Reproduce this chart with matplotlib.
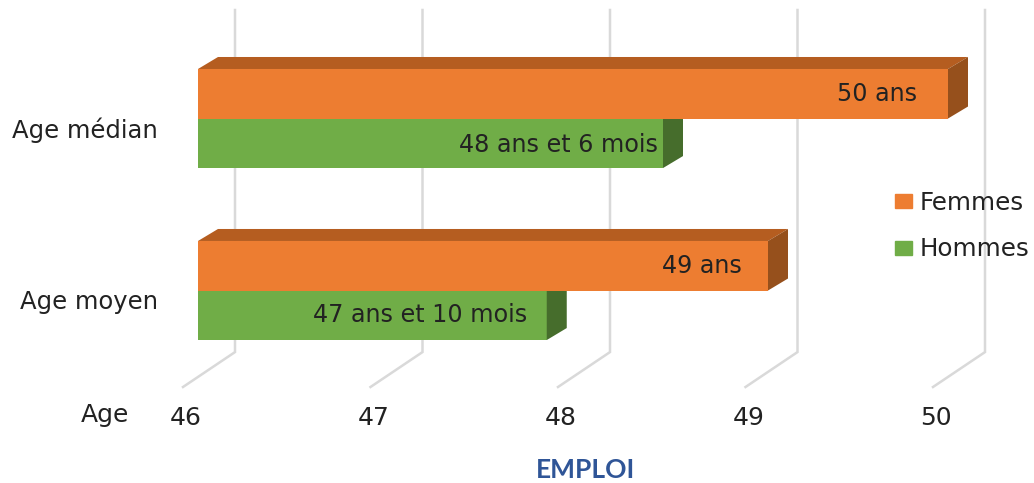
import matplotlib
matplotlib.use('Agg')
import matplotlib.pyplot as plt
from matplotlib.patches import Patch, Polygon
from matplotlib.transforms import ScaledTranslation

# Données
categories = ['Age moyen', 'Age médian']
femmes = [49.04, 50.0]
hommes = [47.86, 48.48]
femmes_labels = ['49 ans', '50 ans']
hommes_labels = ['47 ans et 10 mois', '48 ans et 6 mois']
ticks = [46, 47, 48, 49, 50]

plt.rcParams['font.family'] = ['DejaVu Sans']

W, H = 1034, 483
fig = plt.figure(figsize=(W / 100, H / 100), dpi=100)
# axes calés sur la face avant du graphique (46 -> 198 px, 50 -> 948 px)
ax = fig.add_axes([198 / W, 1 - 387 / H, 750 / W, 377 / H])
ax.set_xlim(46, 50)
ax.set_ylim(-0.561, 1.631)

# profondeur du faux effet 3D, en unités de données
bar_h = 0.288
dx = 20 / 187.5
dy = 12 / 172
back = 37 / 187.5
floor_y = -0.358


def px(p):
    return ScaledTranslation(p[0] / 100, -p[1] / 100, fig.dpi_scale_trans)


def bar3d(y, value, col, top, side, z):
    ax.barh(y, value - 46, left=46, height=bar_h, color=col, zorder=z)
    y0, y1 = y - bar_h / 2, y + bar_h / 2
    ax.add_patch(Polygon([(46, y1), (46 + dx, y1 + dy), (value + dx, y1 + dy), (value, y1)],
                         color=top, lw=0, zorder=z, clip_on=False))
    ax.add_patch(Polygon([(value, y0), (value + dx, y0 + dy), (value + dx, y1 + dy), (value, y1)],
                         color=side, lw=0, zorder=z, clip_on=False))


# grille : verticale au fond + diagonale sur le sol
for t in ticks:
    ax.plot([t + back, t + back, t - 0.08], [1.631, floor_y, -0.561], color='#d9d9d9',
            lw=1.8, zorder=1, clip_on=False, solid_joinstyle='miter')

for i, cat in enumerate(categories):
    bar3d(i - 0.144, hommes[i], '#70ad47', '#4f7a32', '#466d2c', 3)
    bar3d(i + 0.144, femmes[i], '#ed7d31', '#b55d20', '#96501c', 4)
    ax.annotate(femmes_labels[i], (femmes[i], i + 0.144), xytext=([-26, -31][i] * 0.72, 0),
                textcoords='offset points', ha='right', va='center', fontsize=17.2,
                color='#222222', zorder=6)
    ax.annotate(hommes_labels[i], (hommes[i], i - 0.144), xytext=([-20, -5][i] * 0.72, [0, -1.5][i]),
                textcoords='offset points', ha='right', va='center', fontsize=17.2,
                color='#222222', zorder=6)

ax.set_xticks(ticks)
ax.set_xticklabels(ticks, fontsize=18, color='#222222')
ax.set_yticks([0, 1])
ax.set_yticklabels(categories, fontsize=17.5, color='#222222')
ax.tick_params(length=0)
ax.tick_params(axis='x', pad=14)
ax.tick_params(axis='y', pad=29)
for lab in ax.get_xticklabels():
    lab.set_transform(lab.get_transform() + px((-12, 0)))
for lab in ax.get_yticklabels():
    lab.set_transform(lab.get_transform() + px((0, 9)))
for s in ax.spines.values():
    s.set_visible(False)

handles = [Patch(color='#ed7d31', label='Femmes'), Patch(color='#70ad47', label='Hommes')]
fig.legend(handles=handles, loc='center left', bbox_to_anchor=(895 / W, 1 - 226 / H), frameon=False,
           fontsize=17.7, labelspacing=0.92, handlelength=0.7, handleheight=0.5, handletextpad=0.3,
           borderaxespad=0, borderpad=0, labelcolor='#222222')

fig.text(105 / W, 1 - 415 / H, 'Age', fontsize=18, ha='center', va='center', color='#222222')
fig.text(585 / W, 1 - 470 / H, 'EMPLOI', fontsize=19, fontweight='bold', family=['Lato', 'DejaVu Sans'],
         ha='center', va='center', color='#2f5597')

fig.savefig('out.png', dpi=100)
